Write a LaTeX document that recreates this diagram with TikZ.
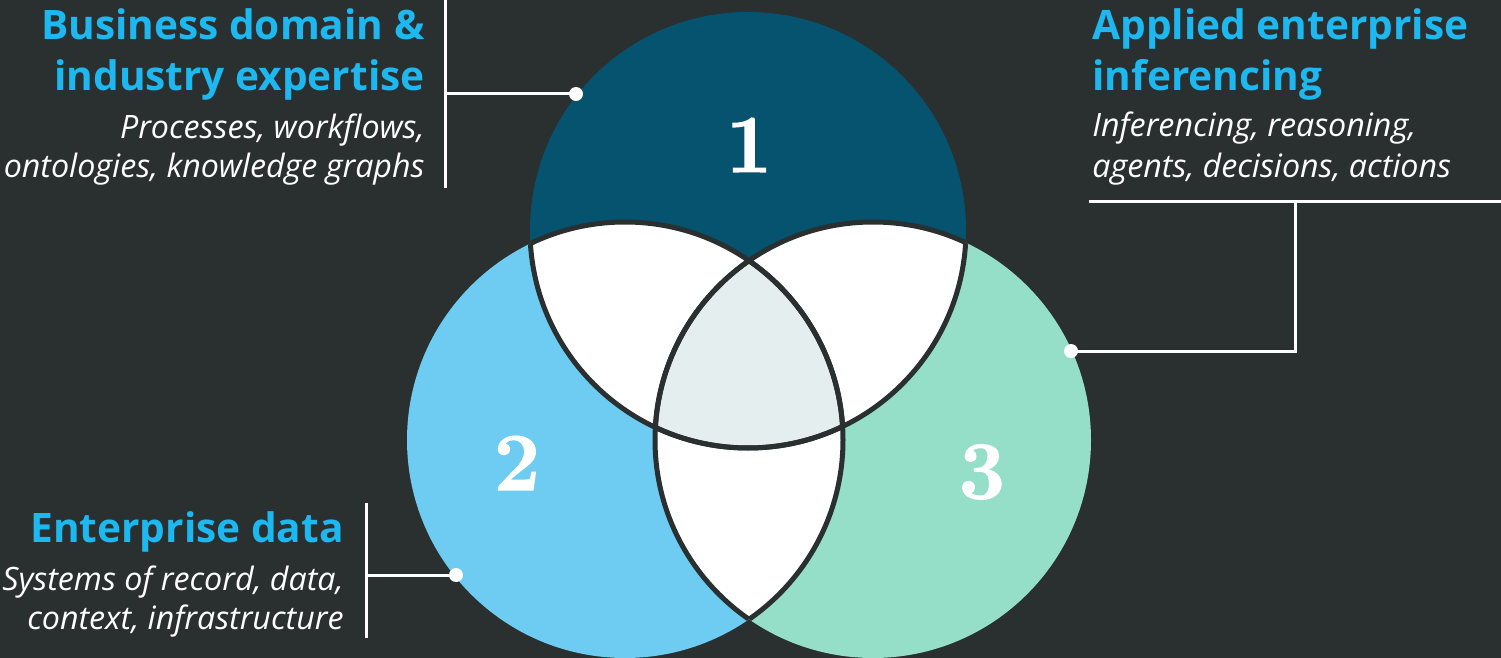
\documentclass[tikz,border=0pt]{standalone}
\usepackage{fontspec}
\setsansfont{Open Sans}
\newfontfamily\numfont{Latin Modern Roman}[BoldFeatures={FakeBold=1.6}]
\definecolor{bgdark}{HTML}{2A2F30}
\definecolor{tealdark}{HTML}{05536E}
\definecolor{skyblue}{HTML}{6ECBF1}
\definecolor{mint}{HTML}{95DEC7}
\definecolor{pale}{HTML}{E5EEEE}
\definecolor{headcyan}{HTML}{1DB8F0}
\begin{document}
\begin{tikzpicture}[x=0.5pt,y=-0.5pt,
	head/.style={text=headcyan,font=\sffamily\bfseries\fontsize{20.3}{24}\selectfont,inner sep=0pt},
	sub/.style={text=white,font=\sffamily\itshape\fontsize{16.1}{19}\selectfont,inner sep=0pt},
	num/.style={text=white,font=\numfont\bfseries\fontsize{41}{41}\selectfont,inner sep=0pt},
	wline/.style={white,line width=1.5pt},
	dot/.style={circle,fill=white,inner sep=0pt,minimum size=7pt},
	rim/.style={bgdark,line width=2.5pt}]

	% background
	\fill[bgdark] (0,0) rectangle (1501,658);
	\useasboundingbox (0,0) rectangle (1501,658);

	% circle centres
	\coordinate (c1) at (748,230);
	\coordinate (c2) at (625,440);
	\coordinate (c3) at (873,440);
	\def\rad{218}

	% the three discs
	\fill[tealdark] (c1) circle (\rad);
	\fill[skyblue] (c2) circle (\rad);
	\fill[mint] (c3) circle (\rad);

	% overlaps
	\begin{scope}
		\clip (c1) circle (\rad);
		\fill[white] (c2) circle (\rad);
		\fill[white] (c3) circle (\rad);
		\clip (c2) circle (\rad);
		\fill[pale] (c3) circle (\rad);
	\end{scope}
	\begin{scope}
		\clip (c2) circle (\rad);
		\fill[white] (c3) circle (\rad);
		\clip (c1) circle (\rad);
		\fill[pale] (c3) circle (\rad);
	\end{scope}

	% inner rims only
	\begin{scope}
		\clip (c1) circle (\rad);
		\draw[rim] (c2) circle (\rad) (c3) circle (\rad);
	\end{scope}
	\begin{scope}
		\clip (c2) circle (\rad);
		\draw[rim] (c1) circle (\rad) (c3) circle (\rad);
	\end{scope}
	\begin{scope}
		\clip (c3) circle (\rad);
		\draw[rim] (c1) circle (\rad) (c2) circle (\rad);
	\end{scope}

	% numbers
	\node[num] (one) at (749,145) {1};
	\node[num] (two) at (517,463) {2};
	\node[num] (three) at (982,472) {3};

	% top left label
	\node[head,anchor=base east] (bizA) at (425,40) {Business domain \&};
	\node[head,anchor=base east] (bizB) at (425,91) {industry expertise};
	\node[sub,anchor=base east] (bizC) at (425,139) {Processes, workflows,};
	\node[sub,anchor=base east] (bizD) at (425,177) {ontologies, knowledge graphs};

	% top right label
	\node[head,anchor=base west] (infA) at (1092,40) {Applied enterprise};
	\node[head,anchor=base west] (infB) at (1092,91) {inferencing};
	\node[sub,anchor=base west] (infC) at (1092,137) {Inferencing, reasoning,};
	\node[sub,anchor=base west] (infD) at (1092,177) {agents, decisions, actions};

	% bottom left label
	\node[head,anchor=base east] (datA) at (344,542) {Enterprise data};
	\node[sub,anchor=base east] (datB) at (344,590) {Systems of record, data,};
	\node[sub,anchor=base east] (datC) at (344,629) {context, infrastructure};

	% bars and pointers
	\coordinate (lbarTop) at (445,0);
	\coordinate (lbarBot) at (445,188);
	\coordinate (lbarMid) at (445,94);
	\coordinate (rbarL) at (1089,202);
	\coordinate (rbarR) at (1501,202);
	\coordinate (rbarMid) at (1295,202);
	\coordinate (rbarCorner) at (1295,351);
	\coordinate (bbarTop) at (366,503);
	\coordinate (bbarBot) at (366,638);
	\coordinate (bbarMid) at (366,575);

	\node[dot] (dotOne) at (576,94) {};
	\node[dot] (dotThree) at (1071,351) {};
	\node[dot] (dotTwo) at (456,575) {};

	\draw[wline] (lbarTop) -- (lbarBot);
	\draw[wline] (lbarMid) -- (dotOne.center);
	\draw[wline] (rbarL) -- (rbarR);
	\draw[wline] (rbarMid) -- (rbarCorner) -- (dotThree.center);
	\draw[wline] (bbarTop) -- (bbarBot);
	\draw[wline] (bbarMid) -- (dotTwo.center);

\end{tikzpicture}
\end{document}
